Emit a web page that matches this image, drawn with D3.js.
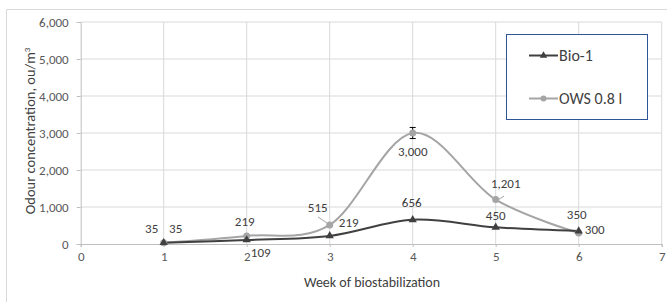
<!DOCTYPE html>
<html>
<head>
<meta charset="utf-8">
<script src="https://cdn.jsdelivr.net/npm/d3@7"></script>
<style>
  body { margin: 0; background: #fff; }
  svg text { font-family: Carlito, Lato, sans-serif; }
</style>
</head>
<body>
<svg width="667" height="302"></svg>
<script>
var weeks = [1, 2, 3, 4, 5, 6];
var bio1 = [35, 109, 219, 656, 450, 350];
var ows = [35, 219, 515, 3000, 1201, 300];
var owsErr = [0, 0, 0, 150, 0, 0];
var xTicks = [0, 1, 2, 3, 4, 5, 6, 7];
var yTicks = [0, 1000, 2000, 3000, 4000, 5000, 6000];
var seriesNames = ["Bio-1", "OWS 0.8 l"];

var svg = d3.select("svg");
var fmt = d3.format(",");

// chart frame (only top and left visible)
svg.append("path").attr("d", "M6.5,303V9.5H668").attr("fill", "none").attr("stroke", "#d9d9d9");

var x = d3.scaleLinear().domain([0, 7]).range([80.7, 661.7]);
var y = d3.scaleLinear().domain([0, 6000]).range([244, 22]);

// gridlines
var g = svg.append("g");
g.selectAll(".hg").data(yTicks.slice(1)).enter().append("line")
  .attr("x1", x(0)).attr("x2", x(7))
  .attr("y1", function(d) { return y(d); }).attr("y2", function(d) { return y(d); })
  .attr("stroke", "#d9d9d9");
g.selectAll(".vg").data(xTicks.slice(1)).enter().append("line")
  .attr("y1", y(0)).attr("y2", y(6000))
  .attr("x1", function(d) { return x(d); }).attr("x2", function(d) { return x(d); })
  .attr("stroke", "#d9d9d9");

// axes
var xAxis = svg.append("g").attr("transform", "translate(0," + y(0) + ")")
  .call(d3.axisBottom(x).tickValues(xTicks).tickSize(3).tickPadding(5).tickFormat(d3.format("d")));
var yAxis = svg.append("g").attr("transform", "translate(" + x(0) + ",0)")
  .call(d3.axisLeft(y).tickValues(yTicks).tickSize(4).tickPadding(8).tickFormat(fmt));
[xAxis, yAxis].forEach(function(a) {
  a.select(".domain").attr("stroke", "#bfbfbf");
  a.selectAll(".tick line").attr("stroke", "#bfbfbf");
  a.selectAll(".tick text").attr("fill", "#595959").style("font-size", "13px");
});

// axis titles
svg.append("text").attr("x", 372).attr("y", 282).attr("dy", "0.35em").attr("text-anchor", "middle")
  .attr("fill", "#404040").style("font-size", "14px").text("Week of biostabilization");
var yt = svg.append("text").attr("transform", "translate(30,131) rotate(-90)")
  .attr("text-anchor", "middle").attr("dy", "0.35em").attr("fill", "#404040").style("font-size", "14.5px");
yt.append("tspan").text("Odour concentration, ou/m");
yt.append("tspan").attr("dy", -5).style("font-size", "9px").text("3");

var line = d3.line().curve(d3.curveCardinal.tension(0))
  .x(function(d) { return x(d[0]); }).y(function(d) { return y(d[1]); });

var owsPts = d3.zip(weeks, ows);
var bioPts = d3.zip(weeks, bio1);

svg.append("path").datum(owsPts).attr("d", line).attr("fill", "none")
  .attr("stroke", "#a5a5a5").attr("stroke-width", 2);
svg.append("path").datum(bioPts).attr("d", line).attr("fill", "none")
  .attr("stroke", "#404040").attr("stroke-width", 2);

// error bars
svg.selectAll(".err").data(d3.zip(weeks, ows, owsErr).filter(function(d) { return d[2] > 0; }))
  .enter().append("path")
  .attr("d", function(d) {
    var cx = x(d[0]), y1 = y(d[1] + d[2]), y2 = y(d[1] - d[2]);
    return "M" + (cx - 3) + "," + y1 + "H" + (cx + 3) + "M" + cx + "," + y1 + "V" + y2 + "M" + (cx - 3) + "," + y2 + "H" + (cx + 3);
  })
  .attr("stroke", "#000").attr("fill", "none");

var tri = d3.symbol().type(d3.symbolTriangle).size(30);
svg.selectAll(".om").data(owsPts).enter().append("circle")
  .attr("cx", function(d) { return x(d[0]); }).attr("cy", function(d) { return y(d[1]); })
  .attr("r", 3.5).attr("fill", "#a5a5a5");
svg.selectAll(".bm").data(bioPts).enter().append("path")
  .attr("d", tri).attr("transform", function(d) { return "translate(" + x(d[0]) + "," + y(d[1]) + ")"; })
  .attr("fill", "#404040");

// data labels (offsets follow the spreadsheet's manual placement)
var bioOff = [[12, -14], [14, 12], [19, -13], [-1, -17], [0, -11.5], [-2, -17]];
var owsOff = [[-12, -14], [-2, -14], [-12, -17], [0, 18], [10, -16], [16, -3.5]];
function labels(pts, off) {
  svg.selectAll(null).data(pts).enter().append("text")
    .attr("x", function(d, i) { return x(d[0]) + off[i][0]; })
    .attr("y", function(d, i) { return y(d[1]) + off[i][1]; })
    .attr("text-anchor", "middle").attr("dy", "0.35em")
    .attr("fill", "#404040").style("font-size", "13px")
    .text(function(d) { return fmt(d[1]); });
}
labels(bioPts, bioOff);
labels(owsPts, owsOff);
// leader lines
svg.append("path").attr("d", "M318,217L327,223").attr("stroke", "#a5a5a5").attr("fill", "none");
svg.append("path").attr("d", "M504,196L498,200").attr("stroke", "#a5a5a5").attr("fill", "none");

// legend
var lg = svg.append("g");
lg.append("rect").attr("x", 506.5).attr("y", 34.5).attr("width", 141).attr("height", 85)
  .attr("fill", "#fff").attr("stroke", "#2f5597");
var legendColors = ["#404040", "#a5a5a5"];
var legendY = [55.5, 98.5];
seriesNames.forEach(function(name, i) {
  lg.append("line").attr("x1", 529).attr("x2", 558).attr("y1", legendY[i]).attr("y2", legendY[i])
    .attr("stroke", legendColors[i]).attr("stroke-width", 2);
  if (i === 0) {
    lg.append("path").attr("d", d3.symbol().type(d3.symbolTriangle).size(24))
      .attr("transform", "translate(543.5," + legendY[i] + ")").attr("fill", legendColors[i]);
  } else {
    lg.append("circle").attr("cx", 543.5).attr("cy", legendY[i]).attr("r", 3).attr("fill", legendColors[i]);
  }
  lg.append("text").attr("x", 559).attr("y", legendY[i]).attr("dy", "0.35em")
    .attr("fill", "#404040").style("font-size", "16px").text(name);
});
</script>
</body>
</html>
